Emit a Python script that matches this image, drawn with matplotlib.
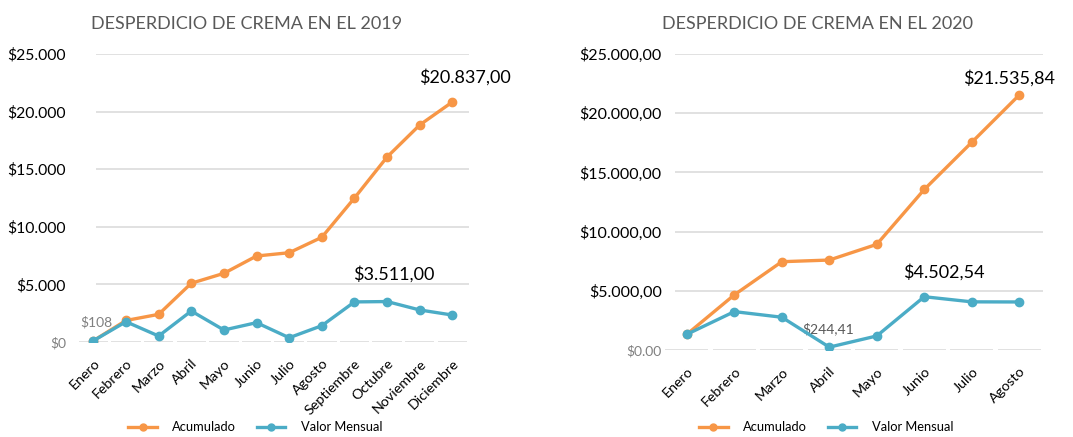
import matplotlib

matplotlib.use('Agg')
import matplotlib.pyplot as plt
from matplotlib.lines import Line2D

plt.rcParams['font.family'] = ['Lato', 'DejaVu Sans']

# datos 2019
meses_2019 = ["Enero", "Febrero", "Marzo", "Abril", "Mayo", "Junio", "Julio",
              "Agosto", "Septiembre", "Octubre", "Noviembre", "Diciembre"]
acumulado_2019 = [108, 1868, 2400, 5100, 5960, 7465, 7750, 9090, 12500, 16060, 18840, 20837]
mensual_2019 = [108, 1760, 520, 2690, 1040, 1680, 370, 1415, 3480, 3511, 2780, 2340]
ticks_2019 = ["$0", "$5.000", "$10.000", "$15.000", "$20.000", "$25.000"]

# datos 2020
meses_2020 = ["Enero", "Febrero", "Marzo", "Abril", "Mayo", "Junio", "Julio", "Agosto"]
acumulado_2020 = [1330, 4660, 7460, 7600, 8925, 13560, 17540, 21535.84]
mensual_2020 = [1330, 3245, 2770, 244.41, 1190, 4502.54, 4070, 4060]
ticks_2020 = ["$0.00", "$5.000,00", "$10.000,00", "$15.000,00", "$20.000,00", "$25.000,00"]

tick_vals = [0, 5000, 10000, 15000, 20000, 25000]

NARANJA = '#F79646'
AZUL = '#4BACC6'
GRIS_GRID = '#D9D9D9'


def dibujar(ax, meses, acum, mens, ticks, grid_start, pad, ysize):
    n = len(meses)
    x = list(range(n))
    ax.set_xlim(-0.5, n - 0.5)
    ax.set_ylim(0, 25000)
    for v in tick_vals[1:]:
        ax.hlines(v, grid_start, n - 0.5, color=GRIS_GRID, lw=1.1, zorder=1)
    # linea del eje en tramos, como en Excel
    for i in x:
        ax.plot([i - 0.45, i + 0.45], [0, 0], color=GRIS_GRID, lw=1.1, zorder=1,
                solid_capstyle='butt')
    ax.plot(x, acum, color=NARANJA, lw=2.4, marker='o', ms=6, zorder=3)
    ax.plot(x, mens, color=AZUL, lw=2.4, marker='o', ms=6, zorder=4)
    for s in ax.spines.values():
        s.set_visible(False)
    ax.set_xticks(x)
    ax.set_xticklabels(meses, rotation=45, ha='right', rotation_mode='anchor',
                       fontsize=10.3, color='#000000')
    ax.set_yticks(tick_vals)
    ax.set_yticklabels(ticks, fontsize=ysize, color='#000000')
    ax.get_yticklabels()[0].set_color('#808080')
    ax.get_yticklabels()[0].set_fontsize(10)
    ax.tick_params(axis='both', length=0)
    ax.tick_params(axis='y', pad=pad)
    ax.tick_params(axis='x', pad=11)


fig = plt.figure(figsize=(10.73, 4.37), dpi=100)

ax1 = fig.add_axes([0.0718, 0.2174, 0.365, 0.659])
dibujar(ax1, meses_2019, acumulado_2019, mensual_2019, ticks_2019, 0.08, 8, 11.3)
fig.text(0.230, 0.945, "DESPERDICIO DE CREMA EN EL 2019", ha='center', va='center',
         fontsize=13, color='#595959')
ax1.annotate("$20.837,00", (11, acumulado_2019[11]), xytext=(9, 18), textcoords='offset points',
             ha='center', va='center', fontsize=13)
ax1.annotate("$3.511,00", (9, mensual_2019[9]), xytext=(5, 20), textcoords='offset points',
             ha='center', va='center', fontsize=13)
ax1.annotate("$108", (0, mensual_2019[0]), xytext=(2, 13), textcoords='offset points',
             ha='center', va='center', fontsize=10, color='#808080')

ax2 = fig.add_axes([0.618, 0.199, 0.354, 0.6774])
dibujar(ax2, meses_2020, acumulado_2020, mensual_2020, ticks_2020, -0.25, 1, 11.5)
fig.text(0.762, 0.945, "DESPERDICIO DE CREMA EN EL 2020", ha='center', va='center',
         fontsize=13, color='#595959')
ax2.annotate("$21.535,84", (7, acumulado_2020[7]), xytext=(-7.5, 12), textcoords='offset points',
             ha='center', va='center', fontsize=13)
ax2.annotate("$4.502,54", (5, mensual_2020[5]), xytext=(14, 18), textcoords='offset points',
             ha='center', va='center', fontsize=13)
ax2.annotate("$244,41", (3, mensual_2020[3]), xytext=(-1, 13.5), textcoords='offset points',
             ha='center', va='center', fontsize=10, color='#595959')

handles = [Line2D([], [], color=NARANJA, lw=2.4, marker='o', ms=5),
           Line2D([], [], color=AZUL, lw=2.4, marker='o', ms=5)]
for cx in (0.238, 0.770):
    fig.legend(handles, ["Acumulado", "Valor Mensual"], loc='center', ncol=2,
               bbox_to_anchor=(cx, 0.022), frameon=False, fontsize=9.3,
               handlelength=2.2, columnspacing=1.6, handletextpad=1.2)

fig.savefig("out.png", dpi=100)
